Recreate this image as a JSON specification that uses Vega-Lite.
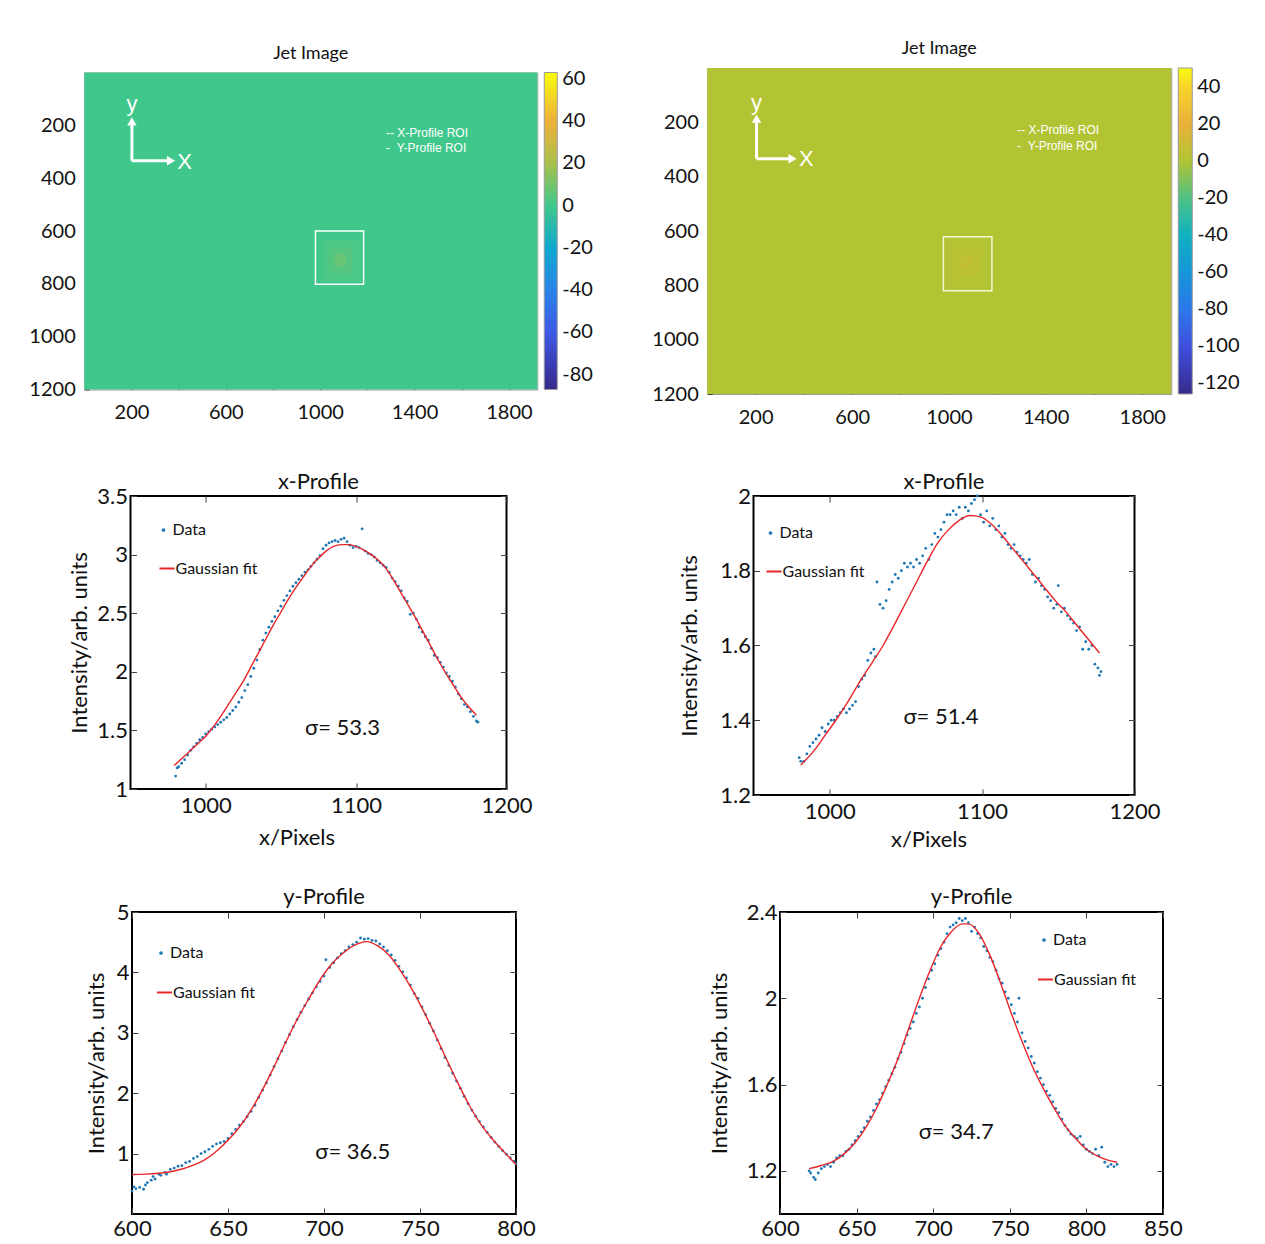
{
"$schema": "https://vega.github.io/schema/vega-lite/v6.json",
"padding": {"left": 28, "top": 39, "right": 5, "bottom": 0},
"background": "white",
"config": {
  "font": "Lato",
  "axis": {"grid": false, "domain": false, "labelColor": "#111", "titleColor": "#111", "tickColor": "#444", "labelFont": "Lato", "titleFont": "Lato", "titleFontWeight": "normal", "labelFlush": false},
  "title": {"font": "Lato", "fontWeight": "normal", "color": "#111"},
  "legend": {"labelFont": "Lato", "labelColor": "#111"}
},
"datasets": {
  "hmL": [{"x":0,"x2":1920,"y":0,"y2":1200,"v":0},{"x":1005,"x2":1165,"y":630,"y2":790,"v":2},{"x":1035,"x2":1135,"y":660,"y2":760,"v":4},{"x":1060,"x2":1110,"y":685,"y2":735,"v":7}],
  "roiL": [{"x":980,"x2":1184,"y":600,"y2":802}],
  "arrL": [{"x":202,"y":334,"x2":202,"y2":192},{"x":202,"y":334,"x2":360,"y2":334}],
  "headL": [{"x":202,"y":185,"dir":"up"},{"x":368,"y":334,"dir":"right"}],
  "axL": [{"x":202,"y":118,"t":"y"},{"x":425,"y":338,"t":"X"}],
  "roiTxtL": [{"x":1279,"y":228,"t":"-- X-Profile ROI"},{"x":1279,"y":284,"t":"-\u00a0\u00a0Y-Profile ROI"}],
  "hmR": [{"x":0,"x2":1920,"y":0,"y2":1200,"v":0},{"x":994,"x2":1154,"y":636,"y2":796,"v":1.5},{"x":1024,"x2":1124,"y":666,"y2":766,"v":3},{"x":1049,"x2":1099,"y":691,"y2":741,"v":5}],
  "roiR": [{"x":977,"x2":1178,"y":621,"y2":820}],
  "arrR": [{"x":204,"y":334,"x2":204,"y2":193},{"x":204,"y":334,"x2":345,"y2":334}],
  "headR": [{"x":204,"y":186,"dir":"up"},{"x":353,"y":334,"dir":"right"}],
  "axR": [{"x":204,"y":130,"t":"y"},{"x":410,"y":336,"t":"X"}],
  "roiTxtR": [{"x":1282,"y":229,"t":"-- X-Profile ROI"},{"x":1282,"y":287,"t":"-\u00a0\u00a0Y-Profile ROI"}],
  "dML": [{"x":980,"y":1.11},{"x":981,"y":1.18},{"x":982,"y":1.19},{"x":984,"y":1.22},{"x":986,"y":1.25},{"x":988,"y":1.29},{"x":990,"y":1.33},{"x":992,"y":1.36},{"x":994,"y":1.39},{"x":996,"y":1.42},{"x":998,"y":1.44},{"x":1000,"y":1.47},{"x":1002,"y":1.49},{"x":1004,"y":1.51},{"x":1006,"y":1.53},{"x":1008,"y":1.55},{"x":1010,"y":1.57},{"x":1012,"y":1.59},{"x":1014,"y":1.61},{"x":1016,"y":1.64},{"x":1018,"y":1.67},{"x":1020,"y":1.70},{"x":1022,"y":1.74},{"x":1024,"y":1.78},{"x":1026,"y":1.84},{"x":1028,"y":1.89},{"x":1030,"y":1.96},{"x":1032,"y":2.03},{"x":1034,"y":2.10},{"x":1036,"y":2.19},{"x":1038,"y":2.27},{"x":1040,"y":2.33},{"x":1042,"y":2.38},{"x":1044,"y":2.43},{"x":1046,"y":2.47},{"x":1048,"y":2.52},{"x":1050,"y":2.56},{"x":1052,"y":2.61},{"x":1054,"y":2.65},{"x":1056,"y":2.69},{"x":1058,"y":2.73},{"x":1060,"y":2.76},{"x":1062,"y":2.79},{"x":1064,"y":2.82},{"x":1066,"y":2.85},{"x":1068,"y":2.87},{"x":1070,"y":2.90},{"x":1072,"y":2.93},{"x":1074,"y":2.96},{"x":1076,"y":2.99},{"x":1078,"y":3.05},{"x":1080,"y":3.08},{"x":1082,"y":3.10},{"x":1084,"y":3.11},{"x":1086,"y":3.12},{"x":1088,"y":3.11},{"x":1090,"y":3.13},{"x":1092,"y":3.14},{"x":1094,"y":3.11},{"x":1096,"y":3.08},{"x":1098,"y":3.06},{"x":1100,"y":3.07},{"x":1102,"y":3.06},{"x":1104,"y":3.22},{"x":1106,"y":3.03},{"x":1108,"y":3.01},{"x":1110,"y":3.00},{"x":1112,"y":2.98},{"x":1114,"y":2.95},{"x":1116,"y":2.93},{"x":1118,"y":2.91},{"x":1120,"y":2.89},{"x":1122,"y":2.85},{"x":1124,"y":2.80},{"x":1126,"y":2.77},{"x":1128,"y":2.73},{"x":1130,"y":2.69},{"x":1132,"y":2.63},{"x":1134,"y":2.60},{"x":1136,"y":2.49},{"x":1138,"y":2.50},{"x":1140,"y":2.45},{"x":1142,"y":2.38},{"x":1144,"y":2.34},{"x":1146,"y":2.30},{"x":1148,"y":2.27},{"x":1150,"y":2.20},{"x":1152,"y":2.14},{"x":1154,"y":2.12},{"x":1156,"y":2.08},{"x":1158,"y":2.04},{"x":1160,"y":1.99},{"x":1162,"y":1.96},{"x":1164,"y":1.92},{"x":1166,"y":1.87},{"x":1168,"y":1.81},{"x":1170,"y":1.77},{"x":1172,"y":1.72},{"x":1174,"y":1.70},{"x":1176,"y":1.66},{"x":1178,"y":1.62},{"x":1180,"y":1.58},{"x":1181,"y":1.57}],
  "fML": [{"x":979,"y":1.20},{"x":985,"y":1.27},{"x":990,"y":1.33},{"x":995,"y":1.39},{"x":1000,"y":1.45},{"x":1005,"y":1.53},{"x":1010,"y":1.62},{"x":1015,"y":1.72},{"x":1020,"y":1.82},{"x":1025,"y":1.92},{"x":1030,"y":2.04},{"x":1035,"y":2.16},{"x":1040,"y":2.28},{"x":1045,"y":2.40},{"x":1050,"y":2.51},{"x":1055,"y":2.62},{"x":1060,"y":2.72},{"x":1065,"y":2.81},{"x":1070,"y":2.90},{"x":1075,"y":2.97},{"x":1080,"y":3.03},{"x":1085,"y":3.07},{"x":1090,"y":3.085},{"x":1095,"y":3.085},{"x":1100,"y":3.07},{"x":1105,"y":3.04},{"x":1110,"y":3.00},{"x":1115,"y":2.95},{"x":1120,"y":2.88},{"x":1125,"y":2.78},{"x":1130,"y":2.67},{"x":1135,"y":2.56},{"x":1140,"y":2.45},{"x":1145,"y":2.33},{"x":1150,"y":2.21},{"x":1155,"y":2.09},{"x":1160,"y":1.98},{"x":1165,"y":1.88},{"x":1170,"y":1.78},{"x":1175,"y":1.70},{"x":1180,"y":1.63}],
  "sML": [{"x":1091,"y":1.52,"t":"σ= 53.3"}],
  "dMR": [{"x":980,"y":1.30},{"x":981,"y":1.29},{"x":983,"y":1.29},{"x":985,"y":1.31},{"x":987,"y":1.33},{"x":989,"y":1.34},{"x":991,"y":1.35},{"x":993,"y":1.36},{"x":995,"y":1.38},{"x":997,"y":1.37},{"x":999,"y":1.39},{"x":1001,"y":1.40},{"x":1003,"y":1.40},{"x":1005,"y":1.41},{"x":1007,"y":1.42},{"x":1009,"y":1.43},{"x":1011,"y":1.42},{"x":1013,"y":1.43},{"x":1015,"y":1.44},{"x":1017,"y":1.45},{"x":1019,"y":1.49},{"x":1021,"y":1.51},{"x":1023,"y":1.52},{"x":1025,"y":1.56},{"x":1027,"y":1.58},{"x":1029,"y":1.59},{"x":1030,"y":1.57},{"x":1031,"y":1.77},{"x":1033,"y":1.71},{"x":1035,"y":1.70},{"x":1037,"y":1.72},{"x":1039,"y":1.75},{"x":1041,"y":1.77},{"x":1043,"y":1.79},{"x":1045,"y":1.78},{"x":1047,"y":1.80},{"x":1049,"y":1.82},{"x":1051,"y":1.81},{"x":1053,"y":1.82},{"x":1055,"y":1.81},{"x":1057,"y":1.83},{"x":1059,"y":1.82},{"x":1061,"y":1.84},{"x":1063,"y":1.86},{"x":1065,"y":1.83},{"x":1067,"y":1.87},{"x":1069,"y":1.90},{"x":1071,"y":1.89},{"x":1073,"y":1.91},{"x":1075,"y":1.93},{"x":1077,"y":1.95},{"x":1079,"y":1.95},{"x":1081,"y":1.96},{"x":1083,"y":1.95},{"x":1085,"y":1.97},{"x":1087,"y":1.94},{"x":1089,"y":1.97},{"x":1091,"y":1.96},{"x":1093,"y":1.98},{"x":1095,"y":1.99},{"x":1097,"y":2.00},{"x":1099,"y":1.95},{"x":1101,"y":1.93},{"x":1103,"y":1.96},{"x":1105,"y":1.92},{"x":1107,"y":1.94},{"x":1109,"y":1.91},{"x":1111,"y":1.92},{"x":1113,"y":1.89},{"x":1115,"y":1.90},{"x":1117,"y":1.87},{"x":1119,"y":1.86},{"x":1121,"y":1.87},{"x":1123,"y":1.85},{"x":1125,"y":1.84},{"x":1127,"y":1.83},{"x":1129,"y":1.82},{"x":1131,"y":1.83},{"x":1133,"y":1.79},{"x":1135,"y":1.77},{"x":1137,"y":1.78},{"x":1139,"y":1.76},{"x":1141,"y":1.75},{"x":1143,"y":1.73},{"x":1145,"y":1.72},{"x":1147,"y":1.70},{"x":1149,"y":1.71},{"x":1150,"y":1.76},{"x":1152,"y":1.69},{"x":1154,"y":1.70},{"x":1156,"y":1.68},{"x":1158,"y":1.67},{"x":1160,"y":1.66},{"x":1162,"y":1.64},{"x":1164,"y":1.65},{"x":1166,"y":1.59},{"x":1168,"y":1.61},{"x":1170,"y":1.59},{"x":1172,"y":1.60},{"x":1174,"y":1.55},{"x":1176,"y":1.54},{"x":1177,"y":1.52},{"x":1178,"y":1.53}],
  "fMR": [{"x":981,"y":1.28},{"x":990,"y":1.32},{"x":997,"y":1.36},{"x":1004,"y":1.40},{"x":1012,"y":1.45},{"x":1020,"y":1.505},{"x":1028,"y":1.555},{"x":1035,"y":1.60},{"x":1043,"y":1.66},{"x":1050,"y":1.715},{"x":1057,"y":1.77},{"x":1064,"y":1.825},{"x":1071,"y":1.875},{"x":1078,"y":1.91},{"x":1085,"y":1.935},{"x":1092,"y":1.948},{"x":1099,"y":1.944},{"x":1106,"y":1.925},{"x":1113,"y":1.895},{"x":1120,"y":1.86},{"x":1127,"y":1.825},{"x":1134,"y":1.79},{"x":1141,"y":1.755},{"x":1148,"y":1.72},{"x":1155,"y":1.69},{"x":1162,"y":1.655},{"x":1169,"y":1.62},{"x":1177,"y":1.58}],
  "sMR": [{"x":1073,"y":1.41,"t":"σ= 51.4"}],
  "dBL": [{"x":600,"y":0.38},{"x":601,"y":0.45},{"x":602,"y":0.42},{"x":604,"y":0.44},{"x":606,"y":0.41},{"x":607,"y":0.48},{"x":608,"y":0.52},{"x":610,"y":0.56},{"x":611,"y":0.62},{"x":612,"y":0.58},{"x":614,"y":0.66},{"x":615,"y":0.64},{"x":617,"y":0.69},{"x":618,"y":0.66},{"x":620,"y":0.74},{"x":622,"y":0.76},{"x":624,"y":0.79},{"x":626,"y":0.80},{"x":628,"y":0.85},{"x":630,"y":0.87},{"x":632,"y":0.92},{"x":634,"y":0.95},{"x":636,"y":1.00},{"x":638,"y":1.03},{"x":640,"y":1.07},{"x":642,"y":1.12},{"x":644,"y":1.16},{"x":646,"y":1.18},{"x":648,"y":1.20},{"x":650,"y":1.25},{"x":652,"y":1.33},{"x":654,"y":1.40},{"x":656,"y":1.47},{"x":658,"y":1.53},{"x":660,"y":1.61},{"x":662,"y":1.70},{"x":664,"y":1.80},{"x":666,"y":1.93},{"x":668,"y":2.05},{"x":670,"y":2.17},{"x":672,"y":2.30},{"x":674,"y":2.44},{"x":676,"y":2.57},{"x":678,"y":2.70},{"x":680,"y":2.84},{"x":682,"y":2.97},{"x":684,"y":3.10},{"x":686,"y":3.22},{"x":688,"y":3.34},{"x":690,"y":3.45},{"x":692,"y":3.56},{"x":694,"y":3.66},{"x":696,"y":3.76},{"x":698,"y":3.85},{"x":700,"y":3.94},{"x":701,"y":4.21},{"x":703,"y":4.08},{"x":705,"y":4.16},{"x":707,"y":4.24},{"x":709,"y":4.31},{"x":711,"y":4.36},{"x":713,"y":4.42},{"x":715,"y":4.46},{"x":717,"y":4.50},{"x":719,"y":4.57},{"x":721,"y":4.55},{"x":723,"y":4.56},{"x":725,"y":4.53},{"x":727,"y":4.52},{"x":729,"y":4.47},{"x":731,"y":4.42},{"x":733,"y":4.36},{"x":735,"y":4.29},{"x":737,"y":4.20},{"x":739,"y":4.10},{"x":741,"y":4.01},{"x":743,"y":3.91},{"x":745,"y":3.79},{"x":747,"y":3.65},{"x":749,"y":3.57},{"x":751,"y":3.43},{"x":753,"y":3.30},{"x":755,"y":3.16},{"x":757,"y":3.03},{"x":759,"y":2.88},{"x":761,"y":2.74},{"x":763,"y":2.59},{"x":765,"y":2.46},{"x":767,"y":2.33},{"x":769,"y":2.20},{"x":771,"y":2.08},{"x":773,"y":1.95},{"x":775,"y":1.83},{"x":777,"y":1.72},{"x":779,"y":1.62},{"x":781,"y":1.53},{"x":783,"y":1.44},{"x":785,"y":1.35},{"x":787,"y":1.27},{"x":789,"y":1.19},{"x":791,"y":1.12},{"x":793,"y":1.05},{"x":795,"y":0.99},{"x":797,"y":0.93},{"x":799,"y":0.87},{"x":800,"y":0.83}],
  "fBL": [{"x":600,"y":0.655},{"x":607,"y":0.66},{"x":614,"y":0.675},{"x":620,"y":0.70},{"x":626,"y":0.745},{"x":632,"y":0.81},{"x":638,"y":0.90},{"x":644,"y":1.04},{"x":650,"y":1.22},{"x":656,"y":1.44},{"x":662,"y":1.72},{"x":668,"y":2.06},{"x":674,"y":2.44},{"x":680,"y":2.84},{"x":686,"y":3.22},{"x":692,"y":3.56},{"x":698,"y":3.88},{"x":704,"y":4.14},{"x":710,"y":4.32},{"x":716,"y":4.45},{"x":722,"y":4.51},{"x":728,"y":4.44},{"x":734,"y":4.28},{"x":740,"y":4.02},{"x":746,"y":3.71},{"x":752,"y":3.35},{"x":758,"y":2.96},{"x":764,"y":2.55},{"x":770,"y":2.15},{"x":776,"y":1.78},{"x":782,"y":1.47},{"x":788,"y":1.23},{"x":794,"y":1.02},{"x":800,"y":0.82}],
  "sBL": [{"x":715,"y":1.03,"t":"σ= 36.5"}],
  "dBR": [{"x":619,"y":1.20},{"x":620,"y":1.19},{"x":622,"y":1.17},{"x":623,"y":1.16},{"x":625,"y":1.19},{"x":627,"y":1.21},{"x":629,"y":1.22},{"x":631,"y":1.23},{"x":633,"y":1.22},{"x":635,"y":1.24},{"x":637,"y":1.26},{"x":639,"y":1.27},{"x":641,"y":1.27},{"x":643,"y":1.29},{"x":645,"y":1.30},{"x":647,"y":1.32},{"x":649,"y":1.34},{"x":651,"y":1.36},{"x":653,"y":1.38},{"x":655,"y":1.40},{"x":657,"y":1.43},{"x":659,"y":1.45},{"x":661,"y":1.48},{"x":663,"y":1.51},{"x":665,"y":1.53},{"x":667,"y":1.56},{"x":669,"y":1.59},{"x":671,"y":1.62},{"x":673,"y":1.65},{"x":675,"y":1.68},{"x":677,"y":1.72},{"x":679,"y":1.75},{"x":681,"y":1.79},{"x":683,"y":1.83},{"x":685,"y":1.86},{"x":687,"y":1.89},{"x":689,"y":1.93},{"x":691,"y":1.96},{"x":693,"y":2.00},{"x":695,"y":2.05},{"x":697,"y":2.09},{"x":699,"y":2.13},{"x":701,"y":2.16},{"x":703,"y":2.20},{"x":705,"y":2.23},{"x":707,"y":2.26},{"x":709,"y":2.30},{"x":711,"y":2.33},{"x":713,"y":2.34},{"x":715,"y":2.35},{"x":717,"y":2.37},{"x":719,"y":2.36},{"x":721,"y":2.37},{"x":723,"y":2.35},{"x":725,"y":2.31},{"x":727,"y":2.33},{"x":729,"y":2.30},{"x":731,"y":2.28},{"x":733,"y":2.24},{"x":735,"y":2.22},{"x":737,"y":2.19},{"x":739,"y":2.17},{"x":741,"y":2.13},{"x":743,"y":2.09},{"x":745,"y":2.07},{"x":747,"y":2.03},{"x":749,"y":2.00},{"x":751,"y":1.97},{"x":753,"y":1.93},{"x":755,"y":1.89},{"x":756,"y":2.00},{"x":758,"y":1.84},{"x":760,"y":1.80},{"x":762,"y":1.77},{"x":764,"y":1.73},{"x":766,"y":1.70},{"x":768,"y":1.66},{"x":770,"y":1.63},{"x":772,"y":1.60},{"x":774,"y":1.57},{"x":776,"y":1.55},{"x":778,"y":1.52},{"x":780,"y":1.49},{"x":782,"y":1.47},{"x":784,"y":1.44},{"x":786,"y":1.41},{"x":788,"y":1.39},{"x":790,"y":1.37},{"x":792,"y":1.36},{"x":794,"y":1.35},{"x":796,"y":1.36},{"x":798,"y":1.32},{"x":800,"y":1.30},{"x":802,"y":1.29},{"x":804,"y":1.28},{"x":806,"y":1.30},{"x":808,"y":1.27},{"x":810,"y":1.31},{"x":812,"y":1.24},{"x":814,"y":1.22},{"x":816,"y":1.23},{"x":818,"y":1.22},{"x":820,"y":1.23}],
  "fBR": [{"x":619,"y":1.21},{"x":627,"y":1.225},{"x":635,"y":1.245},{"x":642,"y":1.28},{"x":649,"y":1.33},{"x":656,"y":1.40},{"x":663,"y":1.49},{"x":670,"y":1.60},{"x":677,"y":1.72},{"x":684,"y":1.86},{"x":691,"y":2.00},{"x":698,"y":2.13},{"x":705,"y":2.24},{"x":712,"y":2.31},{"x":719,"y":2.345},{"x":723,"y":2.345},{"x":730,"y":2.30},{"x":737,"y":2.20},{"x":744,"y":2.07},{"x":751,"y":1.93},{"x":758,"y":1.80},{"x":765,"y":1.68},{"x":772,"y":1.58},{"x":779,"y":1.49},{"x":786,"y":1.41},{"x":793,"y":1.35},{"x":800,"y":1.30},{"x":807,"y":1.27},{"x":814,"y":1.25},{"x":820,"y":1.24}],
  "sBR": [{"x":715,"y":1.38,"t":"σ= 34.7"}]
},
"spacing": 42,
"center": true,
"resolve": {"scale": {"color": "independent", "stroke": "independent", "shape": "independent"}, "legend": {"color": "independent", "stroke": "independent", "shape": "independent"}},
"vconcat": [
 {
  "hconcat": [
   {
    "width": 453, "height": 317,
    "title": {"text": "Jet Image", "fontSize": 18, "offset": 10},
    "view": {"stroke": "#9a9a9a", "strokeWidth": 1},
    "encoding": {
      "x": {"field": "x", "type": "quantitative", "scale": {"domain": [0, 1920], "nice": false, "zero": false}, "axis": {"title": null, "values": [200,400,600,800,1000,1200,1400,1600,1800], "labelExpr": "datum.value % 400 == 200 ? datum.label : ''", "format": "d", "tickSize": -5, "labelFontSize": 20, "labelPadding": 18}},
      "y": {"field": "y", "type": "quantitative", "scale": {"domain": [0, 1200], "nice": false, "zero": false, "reverse": true}, "axis": {"title": null, "values": [200,400,600,800,1000,1200], "format": "d", "tickSize": -5, "labelFontSize": 20, "labelPadding": 14}}
    },
    "layer": [
     {"data": {"name": "hmL"}, "mark": {"type": "rect"},
      "encoding": {"x2": {"field": "x2"}, "y2": {"field": "y2"},
        "color": {"field": "v", "type": "quantitative",
          "scale": {"domain": [-87,-80,-60,-40,-20,0,20,40,63], "range": ["#352a87","#3a33a2","#3d5ae6","#2a84e8","#10a8cf","#40c88c","#a9c04b","#eeb23a","#f9fb0e"], "interpolate": "rgb"},
          "legend": {"orient": "right", "offset": 7, "title": null, "direction": "vertical", "gradientLength": 317, "gradientThickness": 13, "values": [60,40,20,0,-20,-40,-60,-80], "labelExpr": "'' + datum.value", "labelFontSize": 20, "labelOffset": 5, "gradientStrokeColor": "#999", "gradientStrokeWidth": 1, "labelOverlap": false, "padding": 0}}}},
     {"data": {"name": "roiL"}, "mark": {"type": "rect", "fillOpacity": 0, "stroke": "#ffffff", "strokeWidth": 1.5},
      "encoding": {"x2": {"field": "x2"}, "y2": {"field": "y2"}}},
     {"data": {"name": "arrL"}, "mark": {"type": "rule", "color": "#ffffff", "strokeWidth": 3},
      "encoding": {"x2": {"field": "x2"}, "y2": {"field": "y2"}}},
     {"data": {"name": "headL"}, "mark": {"type": "point", "filled": true, "color": "#ffffff", "size": 90, "opacity": 1},
      "encoding": {"shape": {"field": "dir", "type": "nominal", "scale": {"domain": ["up","right"], "range": ["triangle-up","triangle-right"]}, "legend": null}}},
     {"data": {"name": "axL"}, "mark": {"type": "text", "color": "#ffffff", "font": "Liberation Sans", "fontSize": 22, "align": "center", "baseline": "middle"},
      "encoding": {"text": {"field": "t"}}},
     {"data": {"name": "roiTxtL"}, "mark": {"type": "text", "color": "#ffffff", "font": "Liberation Sans", "fontSize": 12, "align": "left", "baseline": "middle"},
      "encoding": {"text": {"field": "t"}}}
    ]
   },
   {
    "width": 464, "height": 326,
    "title": {"text": "Jet Image", "fontSize": 18, "offset": 10},
    "view": {"stroke": "#9a9a9a", "strokeWidth": 1},
    "encoding": {
      "x": {"field": "x", "type": "quantitative", "scale": {"domain": [0, 1920], "nice": false, "zero": false}, "axis": {"title": null, "values": [200,400,600,800,1000,1200,1400,1600,1800], "labelExpr": "datum.value % 400 == 200 ? datum.label : ''", "format": "d", "tickSize": -5, "labelFontSize": 20, "labelPadding": 18}},
      "y": {"field": "y", "type": "quantitative", "scale": {"domain": [0, 1200], "nice": false, "zero": false, "reverse": true}, "axis": {"title": null, "values": [200,400,600,800,1000,1200], "format": "d", "tickSize": -5, "labelFontSize": 20, "labelPadding": 14}}
    },
    "layer": [
     {"data": {"name": "hmR"}, "mark": {"type": "rect"},
      "encoding": {"x2": {"field": "x2"}, "y2": {"field": "y2"},
        "color": {"field": "v", "type": "quantitative",
          "scale": {"domain": [-126,-120,-100,-80,-60,-40,-20,0,20,40,50], "range": ["#352a87","#3a32a0","#3e4fdf","#2c78ea","#1596d8","#0fb2c1","#4fc182","#b2c434","#e9b13a","#f8d52a","#f9fb0e"], "interpolate": "rgb"},
          "legend": {"orient": "right", "offset": 7, "title": null, "direction": "vertical", "gradientLength": 326, "gradientThickness": 14, "values": [40,20,0,-20,-40,-60,-80,-100,-120], "labelExpr": "'' + datum.value", "labelFontSize": 20, "labelOffset": 5, "gradientStrokeColor": "#999", "gradientStrokeWidth": 1, "labelOverlap": false, "padding": 0}}}},
     {"data": {"name": "roiR"}, "mark": {"type": "rect", "fillOpacity": 0, "stroke": "#f4f7d6", "strokeWidth": 1.5},
      "encoding": {"x2": {"field": "x2"}, "y2": {"field": "y2"}}},
     {"data": {"name": "arrR"}, "mark": {"type": "rule", "color": "#ffffff", "strokeWidth": 3},
      "encoding": {"x2": {"field": "x2"}, "y2": {"field": "y2"}}},
     {"data": {"name": "headR"}, "mark": {"type": "point", "filled": true, "color": "#ffffff", "size": 90, "opacity": 1},
      "encoding": {"shape": {"field": "dir", "type": "nominal", "scale": {"domain": ["up","right"], "range": ["triangle-up","triangle-right"]}, "legend": null}}},
     {"data": {"name": "axR"}, "mark": {"type": "text", "color": "#ffffff", "font": "Liberation Sans", "fontSize": 22, "align": "center", "baseline": "middle"},
      "encoding": {"text": {"field": "t"}}},
     {"data": {"name": "roiTxtR"}, "mark": {"type": "text", "color": "#ffffff", "font": "Liberation Sans", "fontSize": 12, "align": "left", "baseline": "middle"},
      "encoding": {"text": {"field": "t"}}}
    ]
   }
  ],
  "spacing": 170, "bounds": "flush", "center": true,
  "resolve": {"scale": {"color": "independent", "stroke": "independent", "shape": "independent"}, "legend": {"color": "independent", "stroke": "independent", "shape": "independent"}}
 },
 {
  "vconcat": [
   {
    "hconcat": [
     {
      "width": 376, "height": 293,
      "title": {"text": "x-Profile", "fontSize": 22, "offset": -9},
      "view": {"stroke": "#000000", "strokeWidth": 2},
      "resolve": {"axis": {"x": "independent", "y": "independent"}},
      "encoding": {
        "x": {"field": "x", "type": "quantitative", "scale": {"domain": [950, 1200], "nice": false, "zero": false}, "axis": {"title": "x/Pixels", "values": [1000,1100,1200], "format": "d", "tickSize": -6, "labelFontSize": 22, "titleFontSize": 22, "labelPadding": 12, "titlePadding": 11, "titleX": 166}},
        "y": {"field": "y", "type": "quantitative", "scale": {"domain": [1, 3.5], "nice": false, "zero": false}, "axis": {"title": "Intensity/arb. units", "values": [1,1.5,2,2.5,3,3.5], "format": ".1~f", "tickSize": -6, "labelFontSize": 22, "titleFontSize": 22, "labelPadding": 9, "titlePadding": 5}}
      },
      "layer": [
       {"data": {"name": "dML"}, "mark": {"type": "point", "filled": true, "size": 8, "opacity": 1},
        "encoding": {"color": {"datum": "Data", "type": "nominal", "scale": {"domain": ["Data"], "range": ["#1f77b4"]},
          "legend": {"orient": "none", "legendX": 25, "legendY": 26, "direction": "vertical", "title": null, "labelFontSize": 16, "symbolType": "circle", "symbolSize": 14, "padding": 0, "labelOffset": 1}}}},
       {"data": {"name": "fML"}, "mark": {"type": "line", "interpolate": "monotone", "strokeWidth": 1.4},
        "encoding": {
          "x": {"field": "x", "type": "quantitative", "axis": {"orient": "top", "values": [1000,1100,1200], "labels": false, "tickSize": -6, "title": null}},
          "y": {"field": "y", "type": "quantitative", "axis": {"orient": "right", "values": [1,1.5,2,2.5,3,3.5], "labels": false, "tickSize": -6, "title": null}},
          "stroke": {"datum": "Gaussian fit", "type": "nominal", "scale": {"domain": ["Gaussian fit"], "range": ["#e8262a"]},
          "legend": {"orient": "none", "legendX": 28, "legendY": 64, "direction": "vertical", "title": null, "labelFontSize": 16, "symbolType": "stroke", "symbolSize": 225, "symbolStrokeWidth": 2, "padding": 0, "labelOffset": 0}}}},
       {"data": {"name": "sML"}, "mark": {"type": "text", "fontSize": 22, "font": "Lato", "color": "#111"},
        "encoding": {"x": {"field": "x", "type": "quantitative", "axis": null}, "y": {"field": "y", "type": "quantitative", "axis": null}, "text": {"field": "t"}}}
      ]
     },
     {
      "width": 381, "height": 299,
      "title": {"text": "x-Profile", "fontSize": 22, "offset": -9},
      "view": {"stroke": "#000000", "strokeWidth": 2},
      "resolve": {"axis": {"x": "independent", "y": "independent"}},
      "encoding": {
        "x": {"field": "x", "type": "quantitative", "scale": {"domain": [950, 1200], "nice": false, "zero": false}, "axis": {"title": "x/Pixels", "values": [1000,1100,1200], "format": "d", "tickSize": -6, "labelFontSize": 22, "titleFontSize": 22, "labelPadding": 12, "titlePadding": 7, "titleX": 175}},
        "y": {"field": "y", "type": "quantitative", "scale": {"domain": [1.2, 2], "nice": false, "zero": false}, "axis": {"title": "Intensity/arb. units", "values": [1.2,1.4,1.6,1.8,2], "format": ".1~f", "tickSize": -6, "labelFontSize": 22, "titleFontSize": 22, "labelPadding": 9, "titlePadding": 18}}
      },
      "layer": [
       {"data": {"name": "dMR"}, "mark": {"type": "point", "filled": true, "size": 8, "opacity": 1},
        "encoding": {"color": {"datum": "Data", "type": "nominal", "scale": {"domain": ["Data"], "range": ["#1f77b4"]},
          "legend": {"orient": "none", "legendX": 9, "legendY": 29, "direction": "vertical", "title": null, "labelFontSize": 16, "symbolType": "circle", "symbolSize": 14, "padding": 0, "labelOffset": 1}}}},
       {"data": {"name": "fMR"}, "mark": {"type": "line", "interpolate": "monotone", "strokeWidth": 1.4},
        "encoding": {
          "x": {"field": "x", "type": "quantitative", "axis": {"orient": "top", "values": [1000,1100,1200], "labels": false, "tickSize": -6, "title": null}},
          "y": {"field": "y", "type": "quantitative", "axis": {"orient": "right", "values": [1.2,1.4,1.6,1.8,2], "labels": false, "tickSize": -6, "title": null, "minExtent": 59, "maxExtent": 59}},
          "stroke": {"datum": "Gaussian fit", "type": "nominal", "scale": {"domain": ["Gaussian fit"], "range": ["#e8262a"]},
          "legend": {"orient": "none", "legendX": 12, "legendY": 67, "direction": "vertical", "title": null, "labelFontSize": 16, "symbolType": "stroke", "symbolSize": 225, "symbolStrokeWidth": 2, "padding": 0, "labelOffset": 0}}}},
       {"data": {"name": "sMR"}, "mark": {"type": "text", "fontSize": 22, "font": "Lato", "color": "#111"},
        "encoding": {"x": {"field": "x", "type": "quantitative", "axis": null}, "y": {"field": "y", "type": "quantitative", "axis": null}, "text": {"field": "t"}}}
      ]
     }
    ],
    "spacing": 247, "bounds": "flush",
    "resolve": {"scale": {"color": "independent", "stroke": "independent", "shape": "independent"}, "legend": {"color": "independent", "stroke": "independent", "shape": "independent"}}
   },
   {
    "hconcat": [
     {
      "width": 384, "height": 302,
      "title": {"text": "y-Profile", "fontSize": 22, "offset": -8},
      "view": {"stroke": "#000000", "strokeWidth": 2},
      "resolve": {"axis": {"x": "independent", "y": "independent"}},
      "encoding": {
        "x": {"field": "x", "type": "quantitative", "scale": {"domain": [600, 800], "nice": false, "zero": false}, "axis": {"title": null, "values": [600,650,700,750,800], "format": "d", "tickSize": -6, "labelFontSize": 22, "labelPadding": 10}},
        "y": {"field": "y", "type": "quantitative", "scale": {"domain": [0, 5], "nice": false, "zero": false}, "axis": {"title": "Intensity/arb. units", "values": [1,2,3,4,5], "format": "d", "tickSize": -6, "labelFontSize": 22, "titleFontSize": 22, "labelPadding": 9, "titlePadding": 8}}
      },
      "layer": [
       {"data": {"name": "dBL"}, "mark": {"type": "point", "filled": true, "size": 8, "opacity": 1},
        "encoding": {"color": {"datum": "Data", "type": "nominal", "scale": {"domain": ["Data"], "range": ["#1f77b4"]},
          "legend": {"orient": "none", "legendX": 21, "legendY": 33, "direction": "vertical", "title": null, "labelFontSize": 16, "symbolType": "circle", "symbolSize": 14, "padding": 0, "labelOffset": 1}}}},
       {"data": {"name": "fBL"}, "mark": {"type": "line", "interpolate": "monotone", "strokeWidth": 1.4},
        "encoding": {
          "x": {"field": "x", "type": "quantitative", "axis": {"orient": "top", "values": [600,650,700,750,800], "labels": false, "tickSize": -6, "title": null}},
          "y": {"field": "y", "type": "quantitative", "axis": {"orient": "right", "values": [1,2,3,4,5], "labels": false, "tickSize": -6, "title": null}},
          "stroke": {"datum": "Gaussian fit", "type": "nominal", "scale": {"domain": ["Gaussian fit"], "range": ["#e8262a"]},
          "legend": {"orient": "none", "legendX": 24, "legendY": 72, "direction": "vertical", "title": null, "labelFontSize": 16, "symbolType": "stroke", "symbolSize": 225, "symbolStrokeWidth": 2, "padding": 0, "labelOffset": 0}}}},
       {"data": {"name": "sBL"}, "mark": {"type": "text", "fontSize": 22, "font": "Lato", "color": "#111"},
        "encoding": {"x": {"field": "x", "type": "quantitative", "axis": null}, "y": {"field": "y", "type": "quantitative", "axis": null}, "text": {"field": "t"}}}
      ]
     },
     {
      "width": 383, "height": 302,
      "title": {"text": "y-Profile", "fontSize": 22, "offset": -8},
      "view": {"stroke": "#000000", "strokeWidth": 2},
      "resolve": {"axis": {"x": "independent", "y": "independent"}},
      "encoding": {
        "x": {"field": "x", "type": "quantitative", "scale": {"domain": [600, 850], "nice": false, "zero": false}, "axis": {"title": null, "values": [600,650,700,750,800,850], "format": "d", "tickSize": -6, "labelFontSize": 22, "labelPadding": 10}},
        "y": {"field": "y", "type": "quantitative", "scale": {"domain": [1.0, 2.4], "nice": false, "zero": false}, "axis": {"title": "Intensity/arb. units", "values": [1.2,1.6,2,2.4], "format": ".1~f", "tickSize": -6, "labelFontSize": 22, "titleFontSize": 22, "labelPadding": 9, "titlePadding": 15}}
      },
      "layer": [
       {"data": {"name": "dBR"}, "mark": {"type": "point", "filled": true, "size": 8, "opacity": 1},
        "encoding": {"color": {"datum": "Data", "type": "nominal", "scale": {"domain": ["Data"], "range": ["#1f77b4"]},
          "legend": {"orient": "none", "legendX": 256, "legendY": 20, "direction": "vertical", "title": null, "labelFontSize": 16, "symbolType": "circle", "symbolSize": 14, "padding": 0, "labelOffset": 1}}}},
       {"data": {"name": "fBR"}, "mark": {"type": "line", "interpolate": "monotone", "strokeWidth": 1.4},
        "encoding": {
          "x": {"field": "x", "type": "quantitative", "axis": {"orient": "top", "values": [600,650,700,750,800,850], "labels": false, "tickSize": -6, "title": null}},
          "y": {"field": "y", "type": "quantitative", "axis": {"orient": "right", "values": [1.2,1.6,2,2.4], "labels": false, "tickSize": -6, "title": null, "minExtent": 29, "maxExtent": 29}},
          "stroke": {"datum": "Gaussian fit", "type": "nominal", "scale": {"domain": ["Gaussian fit"], "range": ["#e8262a"]},
          "legend": {"orient": "none", "legendX": 257, "legendY": 59, "direction": "vertical", "title": null, "labelFontSize": 16, "symbolType": "stroke", "symbolSize": 225, "symbolStrokeWidth": 2, "padding": 0, "labelOffset": 0}}}},
       {"data": {"name": "sBR"}, "mark": {"type": "text", "fontSize": 22, "font": "Lato", "color": "#111"},
        "encoding": {"x": {"field": "x", "type": "quantitative", "axis": null}, "y": {"field": "y", "type": "quantitative", "axis": null}, "text": {"field": "t"}}}
      ]
     }
    ],
    "spacing": 264, "bounds": "flush",
    "resolve": {"scale": {"color": "independent", "stroke": "independent", "shape": "independent"}, "legend": {"color": "independent", "stroke": "independent", "shape": "independent"}}
   }
  ],
  "spacing": 34, "center": true,
  "resolve": {"scale": {"color": "independent", "stroke": "independent", "shape": "independent"}, "legend": {"color": "independent", "stroke": "independent", "shape": "independent"}}
 }
]
}
